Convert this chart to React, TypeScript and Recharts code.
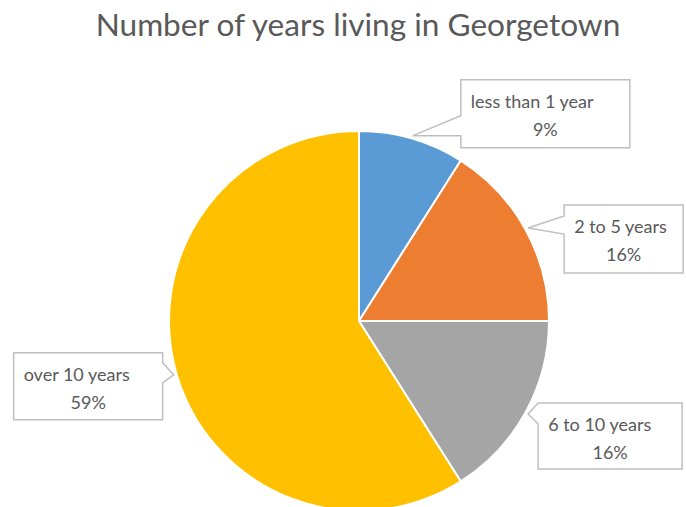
import React from 'react';
import { PieChart, Pie, Cell } from 'recharts';

const categories = ['less than 1 year', '2 to 5 years', '6 to 10 years', 'over 10 years'];
const values = [9, 16, 16, 59];
const colors = ['#5B9BD5', '#ED7D31', '#A5A5A5', '#FFC000'];
const title = 'Number of years living in Georgetown';

const data = categories.map((name, i) => ({ name, value: values[i] }));

// callout box layout relative to the tip point (on slice edge along mid angle)
const callouts = [
  { dx: 48, dy: -56, w: 169, h: 68, side: 'left', pb1: 36, pb2: 56 },
  { dx: 36, dy: -23, w: 119, h: 68, side: 'left', pb1: 11, pb2: 29 },
  { dx: 10, dy: -11, w: 144, h: 66, side: 'left', pb1: 0, pb2: 21 },
  { dx: -160, dy: -22, w: 149, h: 67, side: 'right', pb1: 10, pb2: 30 },
];

const RADIAN = Math.PI / 180;
const FONT = 'Lato, "Open Sans", sans-serif';

const renderLabel = (props: any) => {
  const { cx, cy, midAngle, outerRadius, index, percent, name } = props;
  const r = outerRadius + 3;
  const tx = cx + r * Math.cos(-midAngle * RADIAN);
  const ty = cy + r * Math.sin(-midAngle * RADIAN);
  const c = callouts[index];
  const left = tx + c.dx;
  const top = ty + c.dy;
  const right = left + c.w;
  const bottom = top + c.h;
  let d: string;
  if (c.side === 'left') {
    d = `M${left},${top} L${right},${top} L${right},${bottom} L${left},${bottom} L${left},${top + c.pb2} L${tx},${ty} L${left},${top + c.pb1} Z`;
  } else {
    d = `M${left},${top} L${right},${top} L${right},${top + c.pb1} L${tx},${ty} L${right},${top + c.pb2} L${right},${bottom} L${left},${bottom} Z`;
  }
  return (
    <g key={`cl-${index}`}>
      <path d={d} fill="#ffffff" stroke="#BFBFBF" strokeWidth={1.5} />
      <text x={left + 10} y={top + 28} fill="#595959" fontSize={18} fontFamily={FONT}>
        {name}
      </text>
      <text x={left + c.w / 2} y={top + 56} fill="#595959" fontSize={18} fontFamily={FONT} textAnchor="middle">
        {`${Math.round(percent * 100)}%`}
      </text>
    </g>
  );
};

export default function App() {
  return (
    <div style={{ position: 'absolute', left: 0, top: 0, width: 686, height: 507, background: '#ffffff', overflow: 'hidden' }}>
      <div
        style={{
          position: 'absolute',
          left: 0,
          top: 4,
          width: 716,
          textAlign: 'center',
          fontFamily: FONT,
          fontSize: 31.6,
          color: '#595959',
          lineHeight: '40px',
        }}
      >
        {title}
      </div>
      <PieChart width={686} height={507} margin={{ top: 0, right: 0, bottom: 0, left: 0 }} style={{ position: 'absolute', left: 0, top: 0 }}>
        <Pie
          data={data}
          dataKey="value"
          nameKey="name"
          cx={359}
          cy={321}
          outerRadius={190}
          startAngle={90}
          endAngle={-270}
          stroke="#ffffff"
          strokeWidth={2}
          label={renderLabel}
          labelLine={false}
          isAnimationActive={false}
        >
          {data.map((d, i) => (
            <Cell key={d.name} fill={colors[i]} />
          ))}
        </Pie>
      </PieChart>
    </div>
  );
}
